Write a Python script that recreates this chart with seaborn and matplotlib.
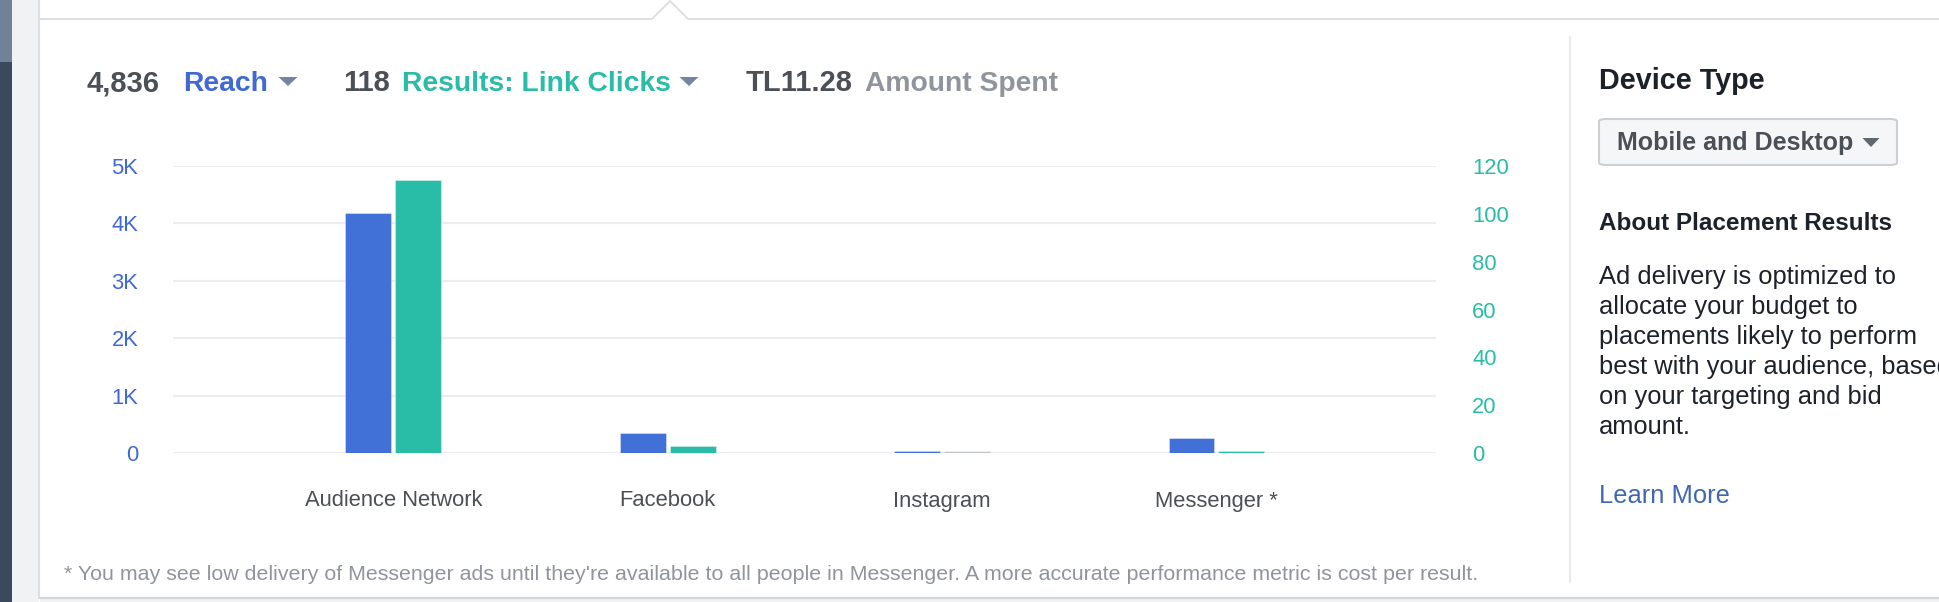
import numpy as np
import pandas as pd
import matplotlib
matplotlib.use("Agg")
import matplotlib.pyplot as plt
import seaborn as sns
from matplotlib.patches import Polygon, Rectangle, FancyBboxPatch
from matplotlib.lines import Line2D

# ---------------- data ----------------
placements = ["Audience Network", "Facebook", "Instagram", "Messenger *"]
reach = [4185, 345, 35, 258]
link_clicks = [114, 3, 0, 1]

reach_ticks = [0, 1000, 2000, 3000, 4000, 5000]
reach_tick_labels = ["0", "1K", "2K", "3K", "4K", "5K"]
click_ticks = [0, 20, 40, 60, 80, 100, 120]
click_tick_labels = ["0", "20", "40", "60", "80", "100", "120"]

header_values = ["4,836", "118", "TL11.28"]
header_metrics = ["Reach", "Results: Link Clicks", "Amount Spent"]

footer_note = ("* You may see low delivery of Messenger ads until they're available to all "
               "people in Messenger. A more accurate performance metric is cost per result.")
side_title = "Device Type"
side_button = "Mobile and Desktop"
side_heading = "About Placement Results"
side_lines = ["Ad delivery is optimized to", "allocate your budget to",
              "placements likely to perform", "best with your audience, based",
              "on your targeting and bid", "amount."]
side_link = "Learn More"

# ---------------- style ----------------
BLUE = "#4170d6"
BLUE_TXT = "#4169d6"
TEAL = "#29bca6"
GREY_BAR = "#bec3c9"
DARK = "#4b4f56"
BLACK = "#1d2129"
MUTED = "#90949c"

sns.set_theme(style="white")
plt.rcParams["font.family"] = ["Liberation Sans", "DejaVu Sans"]

W, H = 1940, 602
fig = plt.figure(figsize=(W / 100, H / 100), dpi=100)
fig.patch.set_facecolor("white")


def fx(x):
    return x / W


def fy(y):
    return 1 - y / H


# ---------------- page chrome ----------------
fig.add_artist(Rectangle((0, 0), fx(12), 1, transform=fig.transFigure, fc="#3b4a5b", ec="none"))
fig.add_artist(Rectangle((0, fy(62)), fx(12), 62 / H, transform=fig.transFigure, fc="#6f8298", ec="none"))
fig.add_artist(Rectangle((fx(12), 0), fx(27), 1, transform=fig.transFigure, fc="#f1f2f3", ec="none"))
fig.add_artist(Line2D([fx(39.5), fx(39.5)], [fy(0), fy(598)], transform=fig.transFigure,
                      color="#dcdee3", lw=1.5))
fig.add_artist(Rectangle((fx(40), 0), 1 - fx(40), 4 / H, transform=fig.transFigure,
                         fc="#f1f2f3", ec="none"))
fig.add_artist(Line2D([fx(40), 1], [fy(598), fy(598)], transform=fig.transFigure,
                      color="#d3d6db", lw=1.6))
fig.add_artist(Line2D([fx(40), fx(652), fx(670), fx(688), 1],
                      [fy(19), fy(19), fy(1), fy(19), fy(19)], transform=fig.transFigure,
                      color="#dddfe2", lw=1.4))
fig.add_artist(Line2D([fx(1570), fx(1570)], [fy(37), fy(582)], transform=fig.transFigure,
                      color="#e9ebee", lw=1.5))

# ---------------- chart ----------------
ax = fig.add_axes([fx(173), fy(453), (1436 - 173) / W, (453 - 166) / H])
ax2 = ax.twinx()

df_r = pd.DataFrame({"placement": placements, "metric": "Reach", "value": reach})
df_c = pd.DataFrame({"placement": placements, "metric": "Results", "value": link_clicks})
common = dict(x="placement", y="value", hue="metric", hue_order=["Reach", "Results"],
              order=placements, palette={"Reach": BLUE, "Results": TEAL},
              width=0.364, gap=0.08, dodge=True, saturation=1, legend=False, errorbar=None,
              edgecolor=(1, 1, 1, 0.4), linewidth=0.6)
sns.barplot(data=df_r, ax=ax, **common)
sns.barplot(data=df_c, ax=ax2, **common)

for p in ax2.patches:
    if p.get_height() == 0:
        p.set_facecolor(GREY_BAR)
        p.set_edgecolor(GREY_BAR)
        p.set_linewidth(2.5)

ax.set_xlim(-0.803, 3.80)
ax.set_ylim(0, 5000)
ax2.set_ylim(0, 120)
ax.set_yticks(reach_ticks, reach_tick_labels)
ax2.set_yticks(click_ticks, click_tick_labels)
ax.grid(axis="y", color="#ebedf0", lw=1.6)
ax.grid(axis="x", visible=False)
ax2.grid(False)
ax.set_axisbelow(True)
for a in (ax, ax2):
    for s in a.spines.values():
        s.set_visible(False)
    a.set_xlabel("")
    a.set_ylabel("")
ax.tick_params(axis="y", length=0, pad=25, labelsize=15.8, labelcolor=BLUE_TXT)
ax2.tick_params(axis="y", length=0, pad=26, labelsize=15.8, labelcolor=TEAL)
ax.tick_params(axis="x", length=0, pad=27, labelsize=15.8, labelcolor=DARK)

# ---------------- header ----------------
hx_val = [87, 343, 746]
hx_met = [183, 402, 865]
met_colors = [BLUE_TXT, TEAL, MUTED]
for v, m, xv, xm, c in zip(header_values, header_metrics, hx_val, hx_met, met_colors):
    fig.text(fx(xv), fy(91), v, fontsize=21, weight="bold", color=DARK, va="baseline")
    fig.text(fx(xm), fy(91), m, fontsize=20.3, weight="bold", color=c, va="baseline")


def tri(cx, top, w, h, color):
    fig.add_artist(Polygon([(fx(cx - w / 2), fy(top)), (fx(cx + w / 2), fy(top)),
                            (fx(cx), fy(top + h))], closed=True,
                           transform=fig.transFigure, fc=color, ec="none"))


tri(288, 77, 19, 9, "#7385a3")
tri(689, 77, 19, 9, "#7385a3")

# ---------------- footer ----------------
fig.text(fx(64), fy(575), footer_note, fontsize=15.4, color=MUTED, va="center")

# ---------------- side panel ----------------
fig.text(fx(1599), fy(89), side_title, fontsize=20.7, weight="bold", color=BLACK, va="baseline")
fig.add_artist(FancyBboxPatch((fx(1599), fy(165)), fx(1897 - 1599), (165 - 119) / H,
                              boxstyle="round,pad=0,rounding_size=0.004",
                              transform=fig.transFigure, fc="#f5f6f7", ec="#ccd0d5", lw=1.5))
fig.text(fx(1617), fy(150), side_button, fontsize=18, weight="bold", color=DARK, va="baseline")
tri(1871, 138, 17, 9, "#606770")
fig.text(fx(1599), fy(230), side_heading, fontsize=17.5, weight="bold", color=BLACK, va="baseline")
for i, line in enumerate(side_lines):
    fig.text(fx(1599), fy(284 + 30 * i), line, fontsize=18.4, color=BLACK, va="baseline")
fig.text(fx(1599), fy(503), side_link, fontsize=18.4, color="#4267b2", va="baseline")

fig.savefig("out.png", dpi=100)
